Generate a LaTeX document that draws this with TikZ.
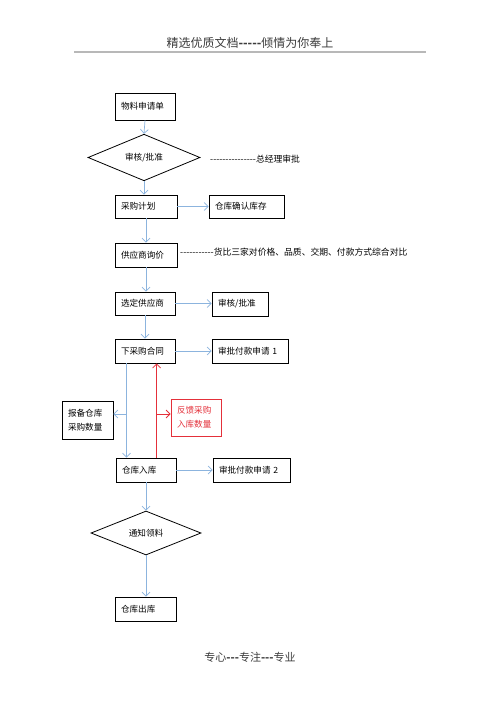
\documentclass[tikz,border=0pt]{standalone}
\usepackage{fontspec}
\setmainfont{Noto Sans CJK SC}[Ligatures=TeXOff]
\usetikzlibrary{shapes.geometric,arrows.meta}
\definecolor{flowblue}{RGB}{140,180,222}
\definecolor{backred}{RGB}{228,48,58}
\definecolor{headgray}{RGB}{60,60,60}
\tikzset{
  box/.style={draw, line width=0.8pt, inner xsep=6pt, inner ysep=0pt, align=left,
    minimum height=24pt, font=\fontsize{8.6}{12}\selectfont},
  decide/.style={draw, diamond, line width=0.8pt, inner sep=0pt,
    font=\fontsize{8.6}{12}\selectfont},
  note/.style={anchor=west, inner sep=0pt, font=\fontsize{8.8}{12}\selectfont},
  flow/.style={draw=flowblue, line width=0.7pt, -{Straight Barb[length=4pt,width=8pt]}},
  back/.style={draw=backred, line width=0.8pt, -{Straight Barb[length=4pt,width=8pt]}}
}
\begin{document}
\begin{tikzpicture}[x=1pt,y=-1pt]
		\useasboundingbox[fill=white] (0,0) rectangle (500,708);
		% header and footer
		\node[headgray, font=\fontsize{12}{14}\selectfont] (head) at (250,43) {精选优质文档\textbf{-----}倾情为你奉上};
		\draw[black!28, line width=1.5pt] (74,52) coordinate (hl) -- (426,52) coordinate (hr);
		\node[headgray, font=\fontsize{11}{13}\selectfont] (foot) at (250,657) {专心\textbf{---}专注\textbf{---}专业};
		% main column
		\node[box, text width=48pt, minimum height=27pt] (req) at (145,106.5) {物料申请单};
		\node[decide, minimum width=112pt, minimum height=45pt] (chk) at (144,157.5) {审核/批准};
		\node[note] (boss) at (210,159) {---------------总经理审批};
		\node[box, text width=50pt, minimum height=23pt] (plan) at (146,206.5) {采购计划};
		\node[box, text width=63pt, minimum height=23pt] (stock) at (246.5,206.5) {仓库确认库存};
		\node[box, text width=50pt] (inq) at (146,255) {供应商询价};
		\node[note] (cmp) at (180,252) {-----------货比三家对价格、品质、交期、付款方式综合对比};
		\node[box, text width=48pt, minimum height=23pt] (sel) at (145,303.5) {选定供应商};
		\node[box, text width=44pt] (appr) at (240,304) {审核/批准};
		\node[box, text width=48pt] (po) at (145,351) {下采购合同};
		\node[box, text width=64pt] (pay1) at (250,351) {审批付款申请 1};
		\node[box, text width=39pt, minimum height=38pt, font=\fontsize{8.6}{13.5}\selectfont] (rep) at (87.5,420) {报备仓库\\采购数量};
		\node[box, draw=backred, text=backred, text width=38pt, minimum height=37pt, font=\fontsize{8.6}{13.5}\selectfont] (fb) at (196,417.5) {反馈采购\\入库数量};
		\node[box, text width=48pt] (in) at (146,470) {仓库入库};
		\node[box, text width=65pt] (pay2) at (251.5,470) {审批付款申请 2};
		\node[decide, minimum width=110pt, minimum height=44pt] (ntc) at (146,533) {通知领料};
		\node[box, text width=49pt] (out) at (145.5,609) {仓库出库};
		% connectors
		\draw[flow] (req.south) -- (chk.north);
		\draw[flow] (chk.south) -- (plan.north -| chk.south);
		\draw[flow] (plan.east) -- (stock.west);
		\draw[flow] (plan.south) -- (inq.north);
		\draw[flow] (inq.south) -- (sel.north -| inq.south);
		\draw[flow] (sel.east) -- (appr.west |- sel.east);
		\draw[flow] (sel.south) -- (po.north);
		\draw[flow] (po.east) -- (pay1.west);
		\draw[flow] ([xshift=12pt]po.south west) coordinate (dn) -- ([xshift=11pt]in.north west);
		\coordinate (dm) at ([xshift=12pt]po.south west |- 0,414);
		\draw[flow] (dm) -- (rep.east |- dm);
		\draw[back] ([xshift=41pt]in.north west) coordinate (up) -- ([xshift=42pt]po.south west);
		\coordinate (um) at (up |- 0,414);
		\draw[back] (um) -- (fb.west |- um);
		\draw[flow] (in.east) -- (pay2.west);
		\draw[flow] (in.south) -- (ntc.north);
		\draw[flow] (ntc.south) -- (out.north -| ntc.south);
\end{tikzpicture}
\end{document}
